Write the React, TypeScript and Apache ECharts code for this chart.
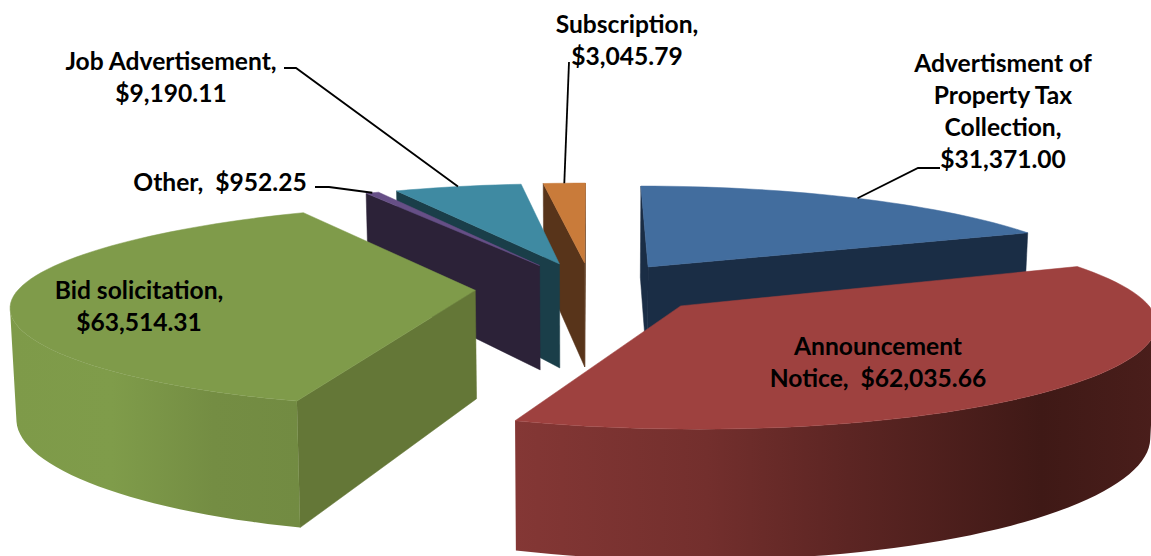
import React, { useEffect, useRef } from "react";
import * as echarts from "echarts";

// ---- data ----
const categories = [
  "Advertisment of Property Tax Collection",
  "Announcement Notice",
  "Bid solicitation",
  "Other",
  "Job Advertisement",
  "Subscription",
];
const seriesValues = [31371.0, 62035.66, 63514.31, 952.25, 9190.11, 3045.79];
const labelNameLines = [
  ["Advertisment of", "Property Tax", "Collection,"],
  ["Announcement", "Notice,"],
  ["Bid solicitation,"],
  ["Other,"],
  ["Job Advertisement,"],
  ["Subscription,"],
];

// ---- styles and layout, separate from the data ----
const topColors = ["#426D9E", "#9E413F", "#7F9B4A", "#664F86", "#3F8AA2", "#C97B3A"];
const sideColors = ["#1A2D45", "#4A1E1B", "#647737", "#2C2238", "#1A3E49", "#58341A"];
const rimStops: [number, string][][] = [
  [[0, "#1A2D45"], [1, "#1A2D45"]],
  [[0, "#843735"], [0.3, "#732F2D"], [0.52, "#5C2523"], [0.82, "#3F1916"], [1, "#4A1E1B"]],
  [[0, "#7E9A49"], [0.35, "#7F9C4A"], [0.7, "#748D43"], [1, "#728B42"]],
  [[0, "#2C2238"], [1, "#2C2238"]],
  [[0, "#1A3E49"], [1, "#1A3E49"]],
  [[0, "#58341A"], [1, "#58341A"]],
];
const paintOrder = [0, 5, 4, 3, 2, 1];
const labelCenters = [
  [1003, 110],
  [878, 361],
  [139, 305],
  [220, 181],
  [171, 76],
  [627, 39],
];
const labelSeparators = ["\n", "  ", "\n", "  ", "\n", "\n"];
// small per-slice corrections to how a slice is drawn, as in the 3-D original
const drawnSweepNudgeDeg = [0.7, 2, 0, 0, 0, 0];
const drawnOffsetNudgeU = [-0.012, 0, 0.004, 0, 0, 0];
// start and elbow of each leader line; the end is computed on the slice's rim
const leaders: ({ start: number[]; elbow: number[]; rimAngleFrac: number } | null)[] = [
  { start: [940, 168], elbow: [918, 168], rimAngleFrac: 0.51 },
  null,
  null,
  { start: [315, 187], elbow: [329, 187], rimAngleFrac: 0.5 },
  { start: [284, 68], elbow: [296, 68], rimAngleFrac: 0.5 },
  { start: [569, 62], elbow: [569, 62], rimAngleFrac: 0.5 },
];

const CX = 591; // screen x of the pie's axis
const HORIZON = -371; // vanishing line of the pie's plane
const PLANE_Y = 659; // distance from horizon to the pie's centre on screen
const PERSPECTIVE = 0.15;
const RADIUS_X = 447;
const THICKNESS = 108;
const EXPLODE = 0.263;
const NADIR_SHRINK = 0.011;
const RIM_SQUARENESS = 0.02;

const total = seriesValues.reduce((a, b) => a + b, 0);
const startAngles: number[] = [];
seriesValues.reduce((acc, v, i) => {
  startAngles[i] = acc;
  return acc + (v / total) * Math.PI * 2;
}, 0);
const sweep = (i: number) => (seriesValues[i] / total) * Math.PI * 2;

function project(u: number, v: number, lower = false): number[] {
  const d = 1 + PERSPECTIVE * v;
  const x = CX + (RADIUS_X * u) / d;
  const y = HORIZON + PLANE_Y / d;
  if (!lower) return [x, y];
  return [CX + (x - CX) * (1 - NADIR_SHRINK), y + THICKNESS / d];
}

function sliceOffset(i: number): number[] {
  const mid = startAngles[i] + sweep(i) / 2;
  return [EXPLODE * Math.sin(mid) + drawnOffsetNudgeU[i], EXPLODE * Math.cos(mid)];
}

function rimPoint(i: number, a: number): number[] {
  const [ou, ov] = sliceOffset(i);
  const s = Math.sin(a);
  return [ou + s * (1 + RIM_SQUARENESS * s * s * s * s), ov + Math.cos(a)];
}

function quadArea(p: number[][]): number {
  let s = 0;
  p.forEach((q, j) => {
    const n = p[(j + 1) % p.length];
    s += q[0] * n[1] - n[0] * q[1];
  });
  return s / 2;
}

function wall(a: number[], b: number[]) {
  return [project(a[0], a[1]), project(b[0], b[1]), project(b[0], b[1], true), project(a[0], a[1], true)];
}

function polygon(points: number[][], fill: any, z2: number) {
  return {
    type: "polygon",
    z2,
    shape: { points },
    style: { fill, stroke: fill instanceof Object ? undefined : fill, lineWidth: 0.5 },
  };
}

function renderSlice(_: any, api: any) {
  const i = api.value(0) as number;
  const a0 = startAngles[i];
  const sw = sweep(i) + (drawnSweepNudgeDeg[i] * Math.PI) / 180;
  const apex = sliceOffset(i);
  const steps = Math.max(4, Math.ceil((sw / Math.PI) * 90));
  const rim: number[][] = [];
  for (let s = 0; s <= steps; s++) rim.push(rimPoint(i, a0 + (sw * s) / steps));

  const children: any[] = [];
  const startWall = wall(apex, rim[0]);
  const endWall = wall(rim[steps], apex);
  if (quadArea(startWall) < 0) children.push(polygon(startWall, sideColors[i], 1));
  if (quadArea(endWall) < 0) children.push(polygon(endWall, sideColors[i], 1));

  const upper: number[][] = [];
  const lower: number[][] = [];
  for (let s = 0; s < steps; s++) {
    const q = wall(rim[s], rim[s + 1]);
    if (quadArea(q) < 0) {
      if (!upper.length) {
        upper.push(q[0]);
        lower.push(q[3]);
      }
      upper.push(q[1]);
      lower.push(q[2]);
    }
  }
  if (upper.length) {
    children.push(
      polygon(
        upper.concat(lower.slice().reverse()),
        new echarts.graphic.LinearGradient(
          0, 0, 1, 0,
          rimStops[i].map(([offset, color]) => ({ offset, color })),
        ),
        2,
      ),
    );
  }
  const top = [project(apex[0], apex[1])].concat(rim.map((p) => project(p[0], p[1])));
  children.push(polygon(top, topColors[i], 3));
  return { type: "group", children };
}

const money = (v: number) =>
  "$" + v.toLocaleString("en-US", { minimumFractionDigits: 2, maximumFractionDigits: 2 });

function renderLabel(_: any, api: any) {
  const i = api.value(0) as number;
  const text = labelNameLines[i].join("\n") + labelSeparators[i] + money(seriesValues[i]);
  const children: any[] = [
    {
      type: "text",
      x: labelCenters[i][0],
      y: labelCenters[i][1],
      style: {
        text,
        fill: "#000",
        font: 'bold 24.6px Lato, "Open Sans", sans-serif',
        lineHeight: 32,
        align: "center",
        verticalAlign: "middle",
      },
    },
  ];
  const l = leaders[i];
  if (l) {
    const r = rimPoint(i, startAngles[i] + sweep(i) * l.rimAngleFrac);
    children.push({
      type: "polyline",
      shape: { points: [l.start, l.elbow, project(r[0], r[1])] },
      style: { stroke: "#000", lineWidth: 1.8, fill: "none" },
    });
  }
  return { type: "group", children };
}

export default function App() {
  const ref = useRef<HTMLDivElement>(null);
  useEffect(() => {
    const chart = echarts.init(ref.current!, null, { renderer: "svg" });
    chart.setOption({
      animation: false,
      backgroundColor: "#fff",
      series: [
        {
          type: "custom",
          name: "Slices",
          coordinateSystem: "none",
          renderItem: renderSlice,
          data: paintOrder.map((i) => ({ name: categories[i], value: [i, seriesValues[i]] })),
          z: 1,
          silent: true,
        },
        {
          type: "custom",
          name: "Labels",
          coordinateSystem: "none",
          renderItem: renderLabel,
          data: categories.map((name, i) => ({ name, value: [i, seriesValues[i]] })),
          z: 2,
          silent: true,
        },
      ],
    });
    return () => chart.dispose();
  }, []);
  return <div ref={ref} style={{ position: "fixed", left: 0, top: 0, width: 1151, height: 556 }} />;
}
